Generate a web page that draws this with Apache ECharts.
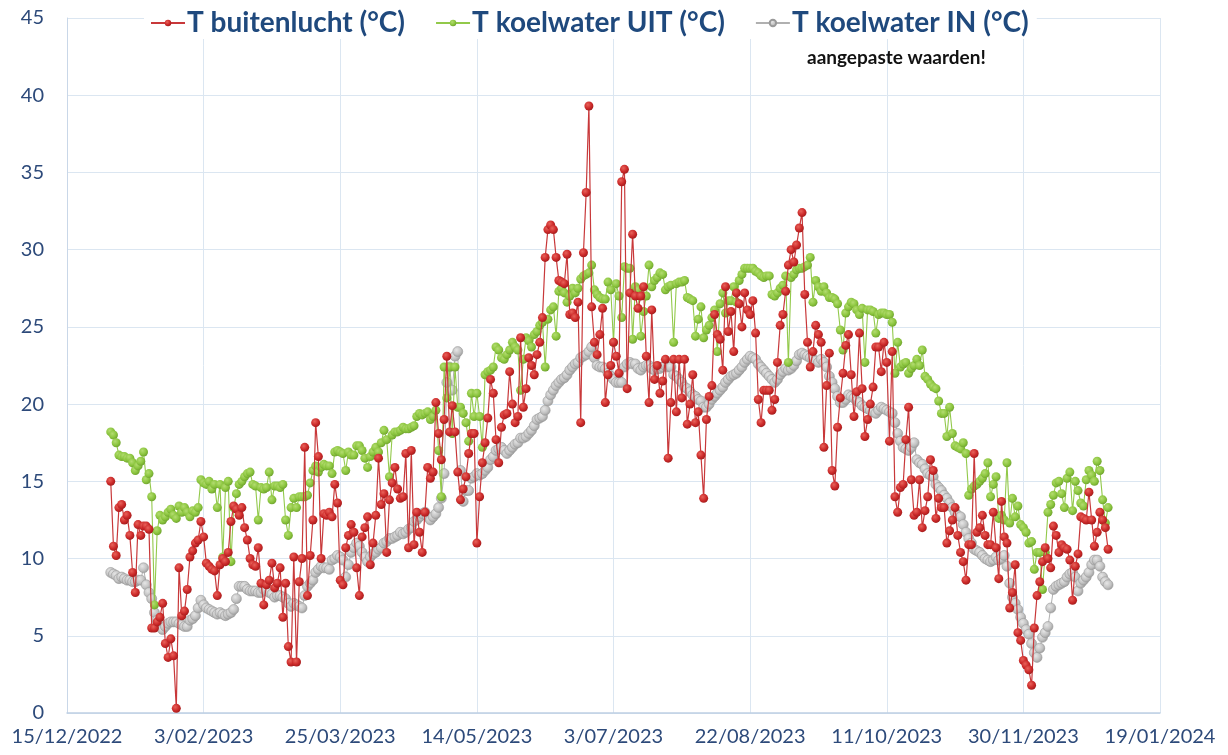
<!DOCTYPE html>
<html>
<head>
<meta charset="utf-8">
<title>Temperaturen koelwater en buitenlucht 2023</title>
<script src="https://cdn.jsdelivr.net/npm/echarts@6/dist/echarts.min.js"></script>
<style>
  html, body { margin: 0; padding: 0; background: #ffffff; }
  #chart { width: 1228px; height: 755px; }
</style>
</head>
<body>
<div id="chart"></div>
<script>
// Axis origin and first measurement day
const axisOrigin = '2022-12-15';
const firstDate = '2022-12-31';

// Date tick labels, one every 50 days from the axis origin
const xTickLabels = ['15/12/2022', '3/02/2023', '25/03/2023', '14/05/2023', '3/07/2023',
  '22/08/2023', '11/10/2023', '30/11/2023', '19/01/2024'];

const seriesNames = ['T buitenlucht (°C)', 'T koelwater UIT (°C)', 'T koelwater IN (°C)'];

// Daily outside air temperature (°C)
const tBuitenlucht = [
  15.0, 10.8, 10.2, 13.3, 13.5, 12.5, 12.8, 11.5, 9.1, 7.8,
  12.2, 11.5, 12.1, 12.1, 11.9, 5.5, 5.5, 5.9, 6.2, 7.1,
  4.5, 3.6, 4.8, 3.7, 0.3, 9.4, 6.3, 6.6, 8.0, 10.1,
  10.5, 11.0, 11.2, 12.4, 11.4, 9.7, 9.5, 9.3, 9.2, 7.6,
  9.6, 10.0, 9.8, 10.4, 12.4, 13.4, 13.2, 12.8, 13.3, 12.0,
  11.2, 10.0, 9.6, 9.5, 10.7, 8.4, 7.0, 8.3, 8.6, 9.7,
  8.1, 8.4, 9.4, 6.2, 8.4, 4.3, 3.3, 10.1, 3.3, 8.5,
  10.0, 17.2, 7.6, 10.2, 12.5, 18.8, 16.6, 10.0, 12.9, 12.8,
  13.0, 12.7, 14.8, 13.6, 8.6, 8.3, 10.7, 11.5, 12.2, 11.7,
  9.4, 7.6, 11.4, 12.0, 12.7, 9.6, 11.0, 12.8, 16.5, 13.5,
  14.2, 10.4, 13.8, 14.9, 15.9, 14.5, 13.9, 14.0, 16.8, 10.7,
  17.0, 10.9, 13.0, 11.7, 10.4, 13.0, 15.9, 15.2, 15.6, 20.1,
  18.1, 16.4, 19.0, 23.1, 18.2, 19.9, 18.2, 15.6, 13.8, 14.5,
  15.3, 16.8, 18.1, 18.1, 11.0, 14.0, 16.2, 17.5, 19.1, 21.6,
  20.7, 17.7, 16.2, 18.5, 19.3, 19.4, 22.1, 20.0, 18.8, 19.2,
  24.3, 19.8, 21.0, 23.0, 22.5, 21.9, 23.2, 24.0, 25.6, 29.5,
  31.3, 31.6, 31.3, 29.5, 28.0, 27.9, 27.8, 29.7, 25.8, 25.9,
  25.6, 26.6, 18.8, 29.8, 33.7, 39.3, 26.3, 24.0, 23.2, 24.5,
  26.2, 20.1, 21.9, 22.5, 24.0, 23.1, 22.0, 34.4, 35.2, 21.0,
  27.2, 31.0, 27.0, 26.2, 27.0, 27.6, 23.1, 20.1, 26.1, 21.6,
  22.5, 20.7, 21.5, 22.9, 16.5, 20.1, 22.9, 19.5, 22.9, 20.4,
  22.9, 18.7, 20.0, 21.9, 18.8, 19.5, 16.7, 13.9, 19.0, 20.5,
  21.2, 25.8, 24.5, 24.2, 22.2, 27.6, 24.7, 26.0, 23.4, 27.2,
  26.5, 25.0, 27.2, 26.1, 25.8, 26.7, 24.6, 20.3, 18.8, 20.9,
  20.9, 20.9, 19.6, 20.3, 22.7, 25.1, 25.8, 27.3, 29.0, 30.0,
  29.2, 30.3, 31.4, 32.4, 27.1, 24.0, 22.4, 23.4, 25.1, 24.5,
  24.0, 17.2, 21.2, 23.3, 15.7, 14.7, 18.5, 20.4, 22.0, 23.8,
  24.5, 21.9, 19.2, 20.8, 24.6, 21.0, 17.9, 19.0, 20.0, 21.1,
  23.7, 23.7, 22.1, 24.0, 22.7, 17.6, 23.4, 14.0, 13.0, 14.6,
  14.8, 17.7, 19.8, 15.1, 12.8, 13.0, 15.1, 12.0, 13.1, 14.0,
  16.4, 15.7, 12.6, 13.9, 13.3, 13.3, 11.0, 11.8, 12.5, 13.3,
  11.5, 10.4, 9.8, 8.6, 10.9, 10.9, 16.8, 11.7, 12.0, 12.8,
  11.5, 10.9, 10.9, 13.0, 10.7, 8.7, 13.7, 11.4, 11.0, 6.8,
  7.8, 9.6, 5.2, 4.7, 3.4, 3.1, 2.8, 1.8, 5.5, 7.6,
  8.5, 9.8, 10.7, 10.0, 9.4, 12.1, 11.5, 10.4, 10.9, 10.7,
  10.6, 9.9, 7.3, 9.5, 10.3, 12.7, 12.6, 12.5, 14.3, 12.5,
  10.8, 11.7, 13.0, 12.5, 12.0, 10.6
];

// Daily cooling water outlet temperature (°C)
const tKoelwaterUit = [
  18.2, 18.0, 17.5, 16.7, 16.6, 16.6, 16.5, 16.5, 16.2, 15.7,
  16.0, 16.3, 16.9, 15.1, 15.5, 14.0, 7.0, 11.8, 12.8, 12.5,
  12.7, 13.0, 13.2, 12.8, 12.6, 13.4, 13.0, 13.3, 13.0, 12.7,
  13.1, 13.0, 13.3, 15.1, 14.9, 14.8, 15.0, 14.5, 14.8, 13.3,
  14.8, 10.1, 14.6, 15.0, 9.8, 13.3, 14.2, 14.8, 15.0, 15.3,
  15.5, 15.6, 14.8, 14.7, 12.5, 14.6, 14.5, 14.6, 15.6, 13.8,
  14.7, 14.7, 14.6, 14.8, 12.5, 11.5, 13.3, 13.9, 13.3, 14.0,
  14.0, 14.0, 14.1, 14.9, 15.7, 16.0, 15.6, 15.9, 16.1, 16.0,
  16.0, 15.5, 16.9, 17.0, 16.9, 16.8, 15.7, 16.9, 16.7, 16.7,
  17.3, 17.3, 17.0, 16.5, 15.9, 16.6, 16.9, 17.2, 16.9, 17.5,
  18.3, 17.7, 15.3, 18.0, 18.2, 18.2, 18.3, 18.5, 18.4, 18.4,
  18.5, 18.6, 19.2, 19.4, 19.3, 19.4, 19.5, 19.0, 19.2, 19.6,
  17.0, 14.0, 22.4, 20.4, 22.4, 18.1, 22.4, 19.8, 19.8, 19.4,
  18.8, 17.6, 20.7, 19.2, 20.7, 19.2, 17.2, 21.9, 22.1, 22.2,
  22.4, 23.7, 23.5, 23.0, 22.9, 23.2, 23.5, 24.0, 23.7, 23.5,
  20.9, 22.9, 24.3, 24.1, 23.7, 24.5, 24.7, 25.1, 25.3, 22.4,
  25.5, 26.1, 26.3, 24.4, 27.3, 27.5, 27.2, 26.6, 27.0, 27.5,
  27.2, 27.5, 28.1, 28.3, 28.4, 28.5, 29.0, 27.4, 27.1, 26.9,
  26.8, 26.8, 27.9, 27.4, 24.0, 27.8, 27.0, 25.6, 28.9, 28.8,
  28.8, 24.2, 27.6, 27.4, 24.4, 26.0, 27.0, 29.0, 27.6, 28.0,
  28.2, 28.5, 28.4, 27.4, 27.6, 27.7, 24.0, 27.8, 27.9, 27.9,
  28.0, 26.9, 26.8, 26.7, 24.4, 25.5, 26.3, 24.3, 24.8, 25.1,
  25.6, 26.1, 23.4, 26.5, 27.2, 25.9, 26.7, 26.7, 27.6, 26.6,
  28.0, 28.4, 28.8, 28.8, 28.8, 28.8, 28.6, 28.5, 28.3, 28.2,
  28.3, 28.3, 27.1, 27.0, 27.2, 27.5, 27.7, 28.3, 22.7, 28.2,
  28.4, 28.7, 28.8, 28.8, 28.9, 29.0, 29.5, 26.6, 28.0, 27.6,
  27.3, 27.6, 27.2, 26.9, 26.9, 26.8, 26.5, 24.8, 23.5, 25.9,
  26.3, 26.6, 26.5, 26.1, 25.8, 26.2, 22.7, 26.1, 26.1, 26.0,
  24.6, 25.8, 25.9, 25.9, 25.8, 25.8, 25.3, 22.0, 24.0, 22.4,
  22.6, 22.7, 22.0, 22.3, 22.5, 22.9, 22.5, 23.5, 21.8, 21.6,
  21.3, 21.1, 21.0, 20.2, 19.4, 19.4, 17.9, 19.8, 18.1, 17.3,
  17.2, 17.1, 17.5, 16.8, 14.1, 14.5, 14.7, 14.8, 15.0, 15.2,
  15.5, 16.2, 14.0, 14.8, 15.3, 12.6, 12.8, 12.5, 16.2, 12.3,
  13.9, 12.7, 13.4, 12.2, 12.0, 11.7, 11.0, 11.1, 9.3, 10.4,
  10.4, 8.0, 10.4, 13.0, 13.5, 14.1, 14.9, 15.0, 14.2, 13.3,
  15.2, 15.6, 13.1, 15.0, 14.4, 13.6, 13.4, 15.1, 15.7, 15.4,
  15.0, 16.3, 15.7, 13.8, 12.3, 13.3
];

// Daily cooling water inlet temperature (°C), adjusted values
const tKoelwaterIn = [
  9.1, 9.0, 8.9, 8.7, 8.8, 8.7, 8.6, 8.6, 8.5, 8.5,
  8.6, 8.6, 9.4, 8.3, 7.8, 7.4, 6.5, 6.0, 5.7, 5.4,
  5.6, 5.8, 5.9, 5.9, 5.9, 5.8, 5.7, 5.6, 5.6, 6.0,
  6.1, 6.3, 6.8, 7.3, 7.0, 6.8, 6.7, 6.6, 6.5, 6.4,
  6.5, 6.4, 6.3, 6.4, 6.5, 6.7, 7.4, 8.2, 8.2, 8.2,
  8.0, 7.9, 7.9, 7.9, 7.8, 7.8, 8.0, 7.9, 7.8, 7.7,
  7.5, 7.6, 7.6, 7.5, 7.4, 7.1, 6.9, 7.1, 7.0, 6.9,
  6.8, 7.6, 8.2, 8.4, 8.6, 9.1, 9.3, 9.5, 9.4, 9.4,
  9.3, 9.9, 10.0, 10.2, 10.1, 9.9, 8.8, 9.6, 10.4, 10.7,
  11.0, 10.8, 10.4, 10.1, 9.8, 10.1, 10.3, 10.4, 10.6, 10.7,
  11.0, 11.1, 11.3, 11.3, 11.4, 11.5, 11.7, 11.6, 11.7, 11.9,
  12.0, 12.4, 12.5, 12.7, 12.9, 13.0, 12.7, 12.5, 12.7, 12.9,
  13.3, 13.9, 15.5, 21.4, 22.4, 20.9, 23.1, 23.4, 15.7, 13.7,
  14.4, 14.4, 15.2, 15.3, 15.5, 15.4, 15.5, 15.7, 15.9, 16.4,
  16.6, 17.0, 17.1, 17.2, 17.0, 16.8, 17.0, 17.2, 17.4, 17.5,
  17.8, 17.8, 17.9, 18.1, 18.3, 18.6, 19.0, 19.1, 19.2, 19.6,
  20.2, 20.6, 20.9, 21.2, 21.4, 21.6, 21.7, 21.9, 22.2, 22.4,
  22.6, 22.7, 23.0, 23.1, 23.2, 23.4, 23.7, 23.0, 22.5, 22.4,
  22.4, 22.3, 22.0, 21.8, 21.6, 21.4, 21.4, 21.4, 22.4, 22.6,
  22.7, 22.6, 22.6, 22.3, 22.2, 22.4, 22.5, 22.5, 22.3, 22.2,
  22.3, 22.3, 22.4, 22.5, 22.4, 22.4, 21.9, 21.8, 21.6, 21.4,
  21.1, 21.0, 20.8, 20.6, 20.5, 20.3, 20.2, 19.8, 19.8, 20.0,
  20.3, 20.5, 20.7, 20.9, 21.1, 21.4, 21.6, 21.8, 21.9, 22.0,
  22.2, 22.4, 22.7, 22.9, 23.1, 23.0, 22.9, 22.6, 22.4, 22.2,
  22.0, 21.8, 21.6, 21.4, 21.6, 21.9, 22.1, 22.3, 22.2, 22.3,
  22.5, 22.8, 23.2, 23.3, 23.2, 23.1, 23.0, 22.9, 22.8, 22.7,
  22.9, 22.7, 22.4, 21.8, 21.4, 21.0, 20.5, 20.1, 20.1, 20.3,
  20.6, 20.5, 20.4, 20.2, 20.1, 19.9, 19.8, 19.7, 19.6, 19.5,
  19.4, 19.6, 19.8, 19.7, 19.6, 19.5, 19.4, 18.8, 18.1, 17.6,
  17.2, 17.1, 17.0, 17.2, 17.5, 16.4, 16.2, 16.1, 15.8, 15.5,
  15.4, 15.3, 14.8, 14.6, 14.4, 14.1, 13.9, 13.6, 13.3, 13.0,
  12.8, 12.7, 12.2, 11.7, 11.3, 11.0, 10.6, 10.5, 10.4, 10.2,
  10.0, 9.9, 9.8, 9.9, 10.1, 9.9, 10.0, 10.2, 9.5, 8.4,
  7.5, 7.1, 6.7, 6.2, 5.8, 5.4, 5.1, 4.5, 3.9, 3.6,
  4.2, 4.9, 5.2, 5.6, 6.8, 8.0, 8.2, 8.3, 8.4, 8.5,
  8.8, 9.0, 9.1, 8.8, 7.9, 8.4, 8.6, 8.8, 9.1, 9.6,
  9.9, 9.9, 9.5, 8.8, 8.5, 8.3
];

// x values are days counted from the axis origin
const DAY_MS = 24 * 3600 * 1000;
const firstOffset = Math.round((Date.parse(firstDate) - Date.parse(axisOrigin)) / DAY_MS);
const toPairs = (values) => values.map((v, i) => [firstOffset + i, v]);

const axisTextColor = '#2d4a7a';
const gridColor = '#dbe6f1';
const labelFont = 'Lato, "Open Sans", sans-serif';

function ball(light, mid, dark) {
  return new echarts.graphic.RadialGradient(0.38, 0.35, 0.75, [
    { offset: 0, color: light },
    { offset: 0.55, color: mid },
    { offset: 1, color: dark }
  ]);
}

const chart = echarts.init(document.getElementById('chart'), null, { renderer: 'canvas' });

chart.setOption({
  animation: false,
  backgroundColor: '#ffffff',
  grid: { left: 67, right: 68, top: 18, bottom: 42, containLabel: false },
  legend: {
    data: seriesNames,
    top: 7,
    left: 144,
    itemGap: 30,
    itemWidth: 34,
    itemHeight: 8,
    backgroundColor: '#ffffff',
    padding: [2, 8, 2, 6],
    textStyle: {
      fontFamily: labelFont,
      fontWeight: 'bold',
      fontSize: 28,
      color: '#1f497d',
      padding: [0, 0, 0, -3]
    }
  },
  xAxis: {
    type: 'value',
    min: 0,
    max: 400,
    interval: 50,
    axisLine: { show: true, lineStyle: { color: '#bfd0e4', width: 1.5 } },
    axisTick: { show: false },
    splitLine: { show: true, lineStyle: { color: gridColor, width: 1 } },
    axisLabel: {
      margin: 14,
      fontFamily: labelFont,
      fontSize: 20,
      color: axisTextColor,
      showMinLabel: true,
      showMaxLabel: true,
      formatter: (v) => xTickLabels[Math.round(v / 50)] || ''
    }
  },
  yAxis: {
    type: 'value',
    min: 0,
    max: 45,
    interval: 5,
    axisLine: { show: true, lineStyle: { color: '#c9d7e8', width: 1 } },
    axisTick: { show: false },
    splitLine: { show: true, lineStyle: { color: gridColor, width: 1 } },
    axisLabel: {
      margin: 23,
      fontFamily: labelFont,
      fontSize: 20,
      color: axisTextColor
    }
  },
  graphic: [{
    type: 'text',
    left: 807,
    top: 48,
    z: 100,
    style: {
      text: 'aangepaste waarden!',
      fontFamily: labelFont,
      fontWeight: 'bold',
      fontSize: 19,
      fill: '#111111'
    }
  }],
  series: [
    {
      name: seriesNames[2],
      type: 'line',
      data: toPairs(tKoelwaterIn),
      symbol: 'circle',
      symbolSize: 10,
      showAllSymbol: true,
      z: 2,
      lineStyle: { color: '#b0b0b0', width: 1 },
      itemStyle: { color: ball('#e6e6e6', '#c2c2c2', '#8f8f8f'), borderColor: '#9a9a9a', borderWidth: 0.6 }
    },
    {
      name: seriesNames[1],
      type: 'line',
      data: toPairs(tKoelwaterUit),
      symbol: 'circle',
      symbolSize: 9,
      showAllSymbol: true,
      z: 3,
      lineStyle: { color: '#92c94a', width: 1.1 },
      itemStyle: { color: ball('#b3dc70', '#8cc63f', '#67992a') }
    },
    {
      name: seriesNames[0],
      type: 'line',
      data: toPairs(tBuitenlucht),
      symbol: 'circle',
      symbolSize: 9,
      showAllSymbol: true,
      z: 4,
      lineStyle: { color: '#c8383a', width: 1.2 },
      itemStyle: { color: ball('#e8625a', '#cc2a2a', '#981818') }
    }
  ]
});
</script>
</body>
</html>
